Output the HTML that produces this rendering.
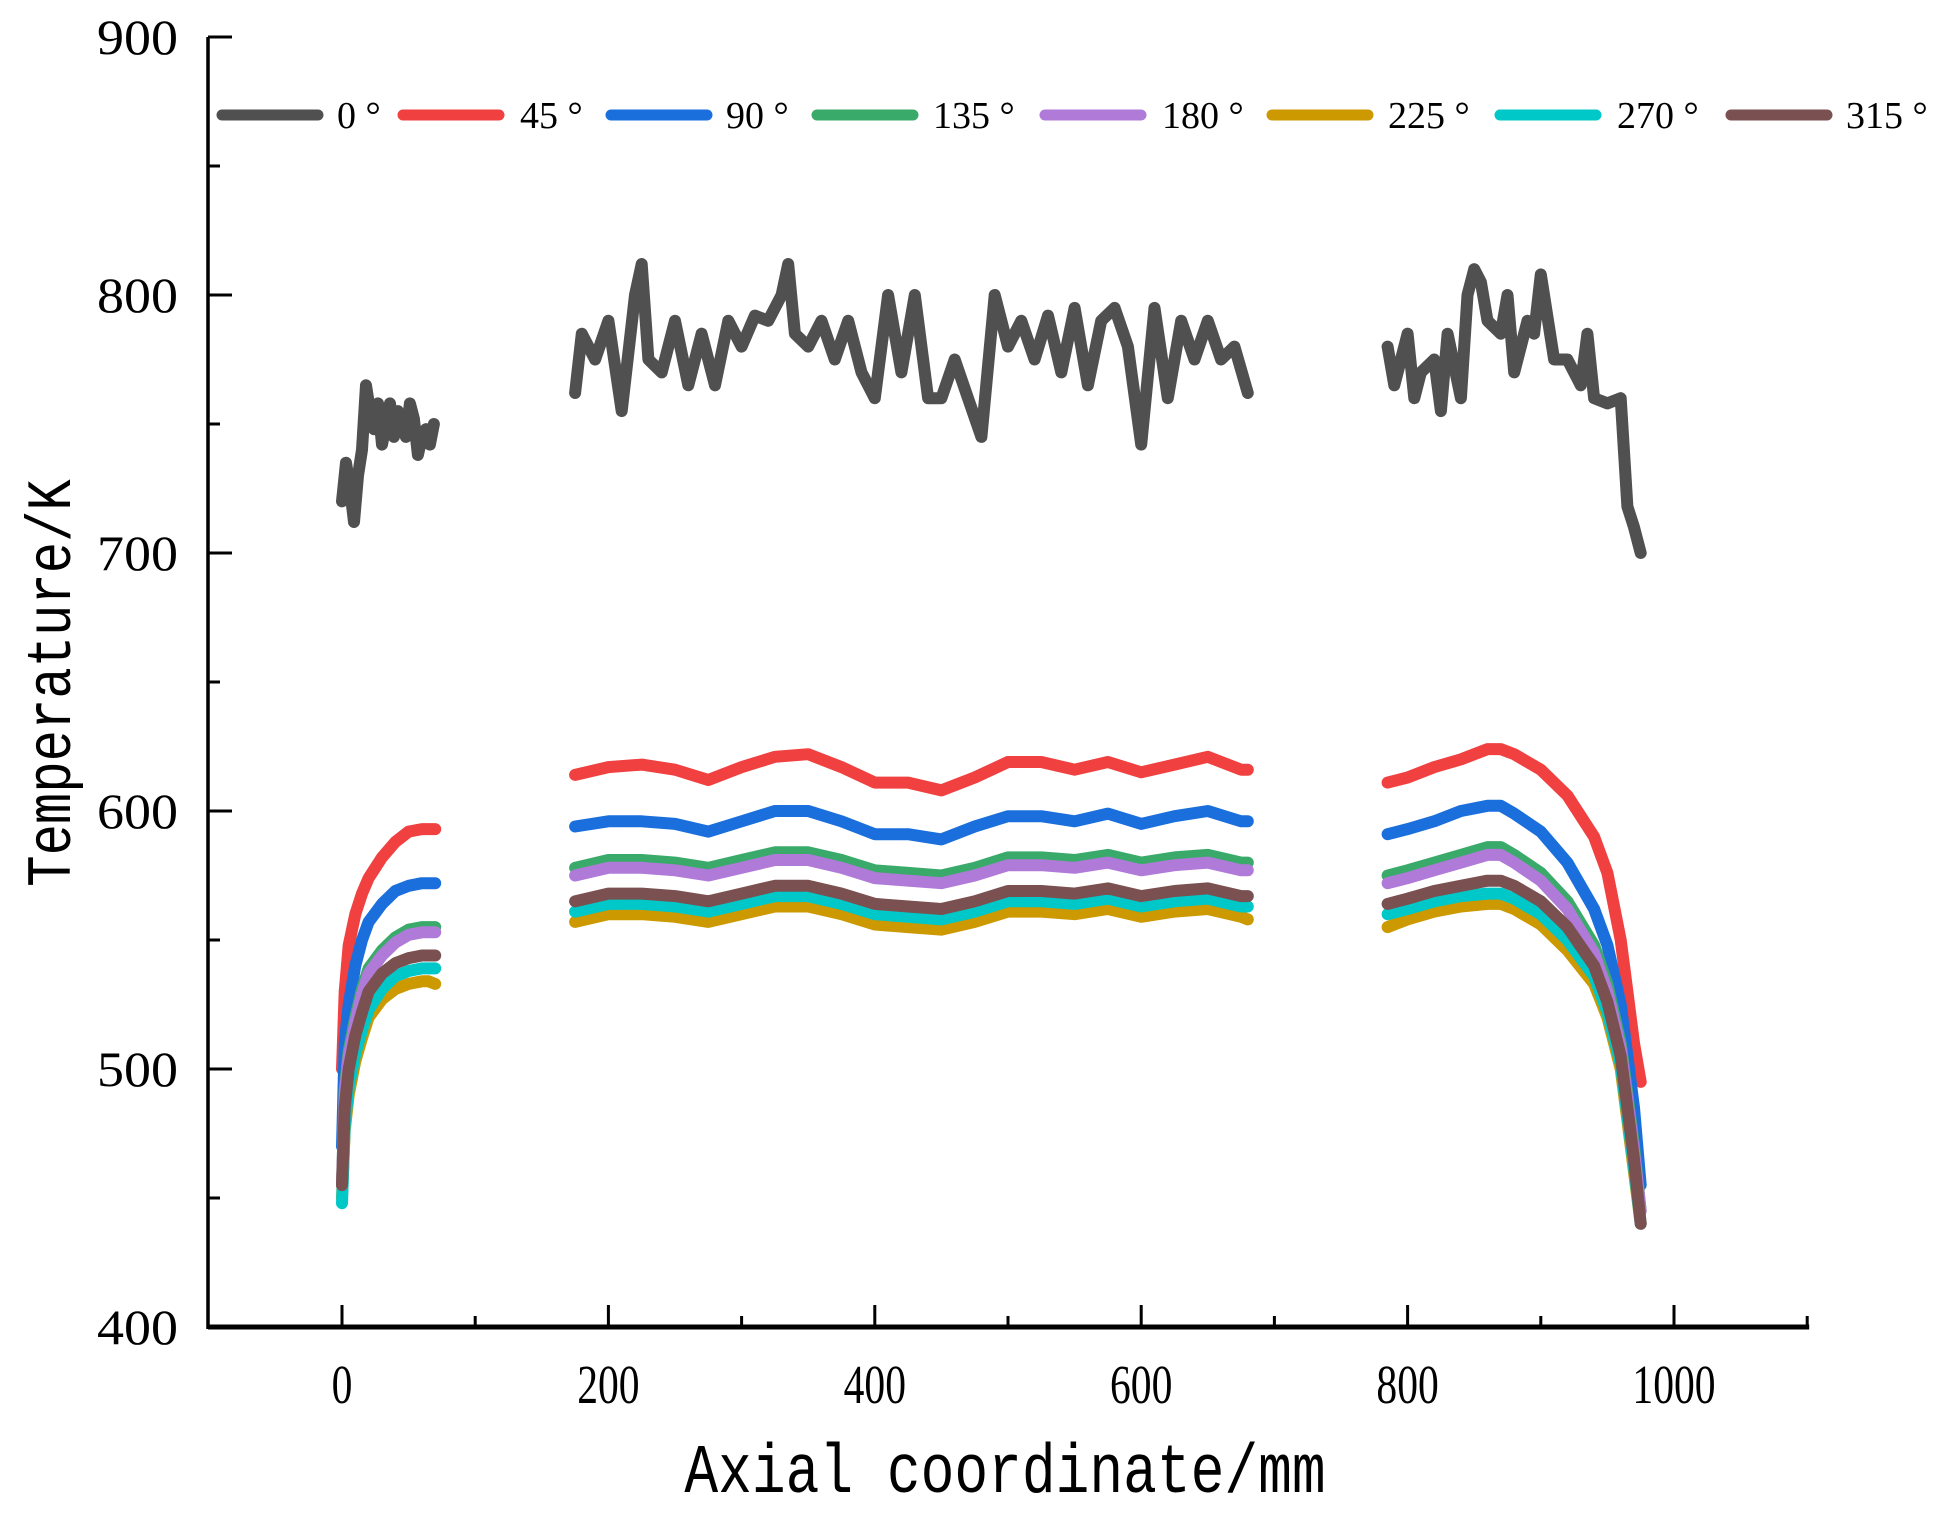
<!DOCTYPE html>
<html><head><meta charset="utf-8"><style>
html,body{margin:0;padding:0;background:#fff;}
svg{display:block;font-family:"Liberation Serif",serif;}
</style></head><body>
<svg id="chart" width="1955" height="1528" viewBox="0 0 1955 1528" xmlns="http://www.w3.org/2000/svg">
<g id="axes"></g>
<g id="plot"></g>
<g id="legend"></g>
<text x="0" y="0" transform="translate(70,683) rotate(-90) scale(0.95,1.15)" text-anchor="middle" font-size="55" font-family="Liberation Mono, monospace">Temperature/K</text>
<text x="0" y="0" text-anchor="middle" font-size="58" font-family="Liberation Mono, monospace" transform="translate(1005,1492) scale(0.97,1.2)">Axial coordinate/mm</text>
</svg>
<script>
const seriesNames = ["0 °","45 °","90 °","135 °","180 °","225 °","270 °","315 °"];
const seriesColors = ["#505050","#f04040","#1a6fdc","#3aaa6a","#b07ad8","#cc9900","#00c8c8","#7a5050"];
const xTicks = [0,200,400,600,800,1000];
const yTicks = [400,500,600,700,800,900];

const x0A = [0,3,6,9,12,15,18,21,24,27,30,33,36,39,42,45,48,51,54,57,60,63,66,69];
const y0A = [720,735,725,712,730,740,765,755,748,758,742,750,758,745,755,750,745,758,752,738,745,748,742,750];
const x0B = [175,180,190,200,210,220,225,230,240,250,260,270,280,290,300,310,320,330,335,340,350,360,370,380,390,400,410,420,430,440,450,460,470,480,490,500,510,520,530,540,550,560,570,580,590,600,610,620,630,640,650,660,670,680];
const y0B = [762,785,775,790,755,800,812,775,770,790,765,785,765,790,780,792,790,800,812,785,780,790,775,790,770,760,800,770,800,760,760,775,760,745,800,780,790,775,792,770,795,765,790,795,780,742,795,760,790,775,790,775,780,762];
const x0C = [785,790,800,805,810,820,825,830,840,845,850,855,860,870,875,880,890,895,900,910,920,930,935,940,950,960,965,970,975];
const y0C = [780,765,785,760,770,775,755,785,760,800,810,805,790,785,800,770,790,785,808,775,775,765,785,760,758,760,718,710,700];

const xA = [0,2,5,10,15,20,30,40,50,60,65,70];
const xB = [175,200,225,250,275,300,325,350,375,400,425,450,475,500,525,550,575,600,625,650,675,680];
const xC = [785,800,820,840,860,870,880,900,920,940,950,960,965,970,975];

const y45A = [500,530,548,560,568,574,582,588,592,593,593,593];
const y45B = [614,617,618,616,612,617,621,622,617,611,611,608,613,619,619,616,619,615,618,621,616,616];
const y45C = [611,613,617,620,624,624,622,616,606,590,576,550,530,510,495];
const y90A = [470,510,525,540,550,557,564,569,571,572,572,572];
const y90B = [594,596,596,595,592,596,600,600,596,591,591,589,594,598,598,596,599,595,598,600,596,596];
const y90C = [591,593,596,600,602,602,599,592,580,562,548,525,505,485,455];
const y135A = [455,492,507,520,531,539,546,551,554,555,555,555];
const y135B = [578,581,581,580,578,581,584,584,581,577,576,575,578,582,582,581,583,580,582,583,580,580];
const y135C = [575,577,580,583,586,586,583,576,565,548,533,510,490,470,445];
const y180A = [455,490,505,518,529,537,544,549,552,553,553,553];
const y180B = [575,578,578,577,575,578,581,581,578,574,573,572,575,579,579,578,580,577,579,580,577,577];
const y180C = [572,574,577,580,583,583,580,573,562,545,530,508,488,468,445];
const y225A = [450,476,490,503,512,520,527,531,533,534,534,533];
const y225B = [557,560,560,559,557,560,563,563,560,556,555,554,557,561,561,560,562,559,561,562,559,558];
const y225C = [555,558,561,563,564,564,562,556,546,533,520,500,480,460,440];
const y270A = [448,478,493,506,515,523,531,536,538,539,539,539];
const y270B = [561,564,564,563,561,564,567,567,564,560,559,558,561,565,565,564,566,563,565,566,563,563];
const y270C = [560,562,565,567,568,568,566,560,550,536,522,502,482,462,440];
const y315A = [455,485,500,513,522,530,537,541,543,544,544,544];
const y315B = [565,568,568,567,565,568,571,571,568,564,563,562,565,569,569,568,570,567,569,570,567,567];
const y315C = [564,566,569,571,573,573,571,565,555,540,526,505,485,465,440];

const NS = "http://www.w3.org/2000/svg";
const X0 = 342, XS = 1.332, Y0 = 1327, YS = 2.58;
function sx(v){ return X0 + v*XS; }
function sy(v){ return Y0 - (v-400)*YS; }
function mk(tag, attrs, parent){
  const e = document.createElementNS(NS, tag);
  for (const k in attrs) e.setAttribute(k, attrs[k]);
  parent.appendChild(e); return e;
}
const axes = document.getElementById('axes');
const plot = document.getElementById('plot');
const legend = document.getElementById('legend');

let el = mk('line',{x1:208,y1:sy(400),x2:sx(1100)+2,y2:sy(400),stroke:'#000','stroke-width':5},axes);


el = mk('line',{x1:208,y1:sy(400)+2,x2:208,y2:sy(900),stroke:'#000','stroke-width':3.5},axes);


el = mk('line',{x1:208,y1:sy(900),x2:232,y2:sy(900),stroke:'#000','stroke-width':3},axes);



for (let v=450; v<900; v+=50){
  const major = v%100===0;
  el = mk('line',{x1:208,y1:sy(v),x2:major?232:220,y2:sy(v),stroke:'#000','stroke-width':3},axes);
  
  
}
yTicks.forEach(v=>{
  el = mk('text',{x:0,y:0,'text-anchor':'end','font-size':50,transform:`translate(178,${sy(v)+17}) scale(1.08,1)`},axes);
  el.textContent = v;
  
  
});
for (let v=0; v<=1100; v+=100){
  const major = v%200===0;
  el = mk('line',{x1:sx(v),y1:sy(400),x2:sx(v),y2:sy(400)-(major?22:11),stroke:'#000','stroke-width':3},axes);
  
  
}
xTicks.forEach(v=>{
  el = mk('text',{x:0,y:0,'text-anchor':'middle','font-size':52,transform:`translate(${sx(v)},1403) scale(0.8,1.05)`},axes);
  el.textContent = v;
  
  
});

const segs = [
  [[x0A,y0A],[x0B,y0B],[x0C,y0C]],
  [[xA,y45A],[xB,y45B],[xC,y45C]],
  [[xA,y90A],[xB,y90B],[xC,y90C]],
  [[xA,y135A],[xB,y135B],[xC,y135C]],
  [[xA,y180A],[xB,y180B],[xC,y180C]],
  [[xA,y225A],[xB,y225B],[xC,y225C]],
  [[xA,y270A],[xB,y270B],[xC,y270C]],
  [[xA,y315A],[xB,y315B],[xC,y315C]]
];
segs.forEach((ss,i)=>{
  ss.forEach((s,j)=>{
    const d = s[0].map((xv,k)=>(k?'L':'M')+sx(xv).toFixed(1)+','+sy(s[1][k]).toFixed(1)).join(' ');
    el = mk('path',{d:d,fill:'none',stroke:seriesColors[i],'stroke-width':12,'stroke-linejoin':'round','stroke-linecap':'round'},plot);
    
    
  });
});

const legLineX = [222,403,611,817,1045,1272,1500,1731];
const legTextX = [337,520,726,933,1162,1388,1617,1846];
seriesNames.forEach((n,i)=>{
  el = mk('line',{x1:legLineX[i],y1:115,x2:legLineX[i]+96,y2:115,stroke:seriesColors[i],'stroke-width':11,'stroke-linecap':'round'},legend);
  
  
  el = mk('text',{x:legTextX[i],y:128,'font-size':38},legend);
  el.textContent = n;
  
  
});
</script>
</body></html>
